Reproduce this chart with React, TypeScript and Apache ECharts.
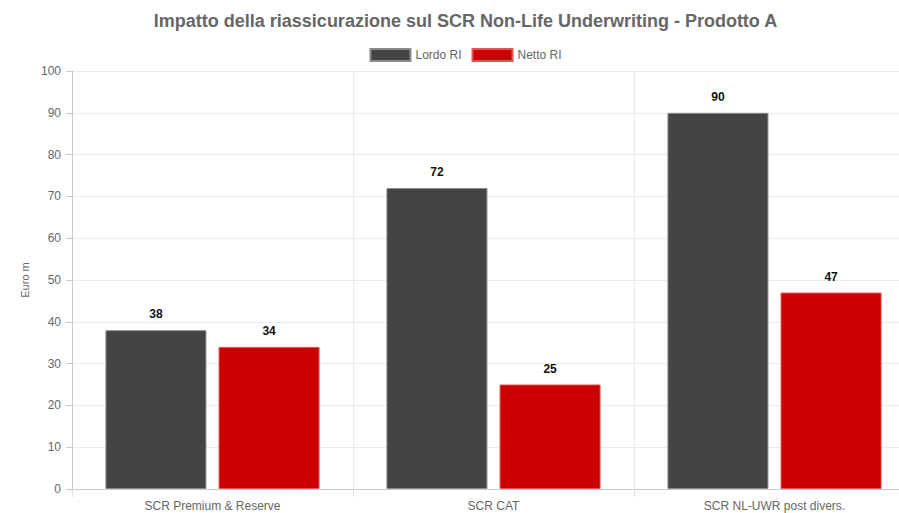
import React, { useEffect, useRef } from "react";
import * as echarts from "echarts";

const categories = ["SCR Premium & Reserve", "SCR CAT", "SCR NL-UWR post divers."];
const lordoRI = [38, 72, 90];
const nettoRI = [34, 25, 47];
const seriesNames = ["Lordo RI", "Netto RI"];
const titleText = "Impatto della riassicurazione sul SCR Non-Life Underwriting - Prodotto A";
const yAxisName = "Euro m";

export default function App() {
  const ref = useRef<HTMLDivElement>(null);
  useEffect(() => {
    if (!ref.current) return;
    const chart = echarts.init(ref.current, null, { renderer: "svg" });
    const font = "'Liberation Sans', Arial, sans-serif";
    const labelCfg = {
      show: true,
      position: "top",
      distance: 10,
      color: "#111",
      fontWeight: "bold",
      fontSize: 12,
      fontFamily: font,
    };
    chart.setOption({
      animation: false,
      textStyle: { fontFamily: font },
      title: {
        text: titleText,
        left: "center",
        top: 7,
        textStyle: { fontSize: 18, fontWeight: "bold", color: "#666", fontFamily: font },
      },
      legend: {
        data: seriesNames,
        top: 43,
        left: "center",
        itemWidth: 40,
        itemHeight: 12,
        itemGap: 10,
        icon: "rect",
        textStyle: { fontSize: 12, color: "#666", fontFamily: font },
      },
      grid: { left: 72, right: 16, top: 71, bottom: 24, containLabel: false },
      xAxis: {
        type: "category",
        data: categories,
        axisLine: { lineStyle: { color: "#c8c8c8" } },
        axisTick: { show: true, length: 8, lineStyle: { color: "#e0e0e0" } },
        splitLine: { show: true, lineStyle: { color: "#ebebeb" } },
        axisLabel: { color: "#666", fontSize: 12, margin: 11, fontFamily: font },
      },
      yAxis: {
        type: "value",
        min: 0,
        max: 100,
        interval: 10,
        name: yAxisName,
        nameLocation: "middle",
        nameGap: 41,
        nameTextStyle: { color: "#666", fontSize: 11, fontFamily: font },
        axisLine: { show: true, lineStyle: { color: "#c8c8c8" } },
        axisTick: { show: true, length: 6, lineStyle: { color: "#c8c8c8" } },
        splitLine: { show: true, lineStyle: { color: "#ebebeb" } },
        axisLabel: { color: "#666", fontSize: 12, margin: 11, fontFamily: font },
      },
      series: [
        {
          name: seriesNames[0],
          type: "bar",
          data: lordoRI,
          barWidth: 101,
          barGap: "12%",
          itemStyle: { color: "#444444", borderColor: "#8a8a8a", borderWidth: 1 },
          label: labelCfg,
        },
        {
          name: seriesNames[1],
          type: "bar",
          data: nettoRI,
          barWidth: 101,
          itemStyle: { color: "#cc0000", borderColor: "#e05555", borderWidth: 1 },
          label: labelCfg,
        },
      ],
    });
    return () => chart.dispose();
  }, []);
  return (
    <div style={{ position: "fixed", left: 0, top: 0, width: 899, height: 513, overflow: "hidden", background: "#fff" }}>
      <div ref={ref} style={{ width: 931, height: 513 }} />
    </div>
  );
}
